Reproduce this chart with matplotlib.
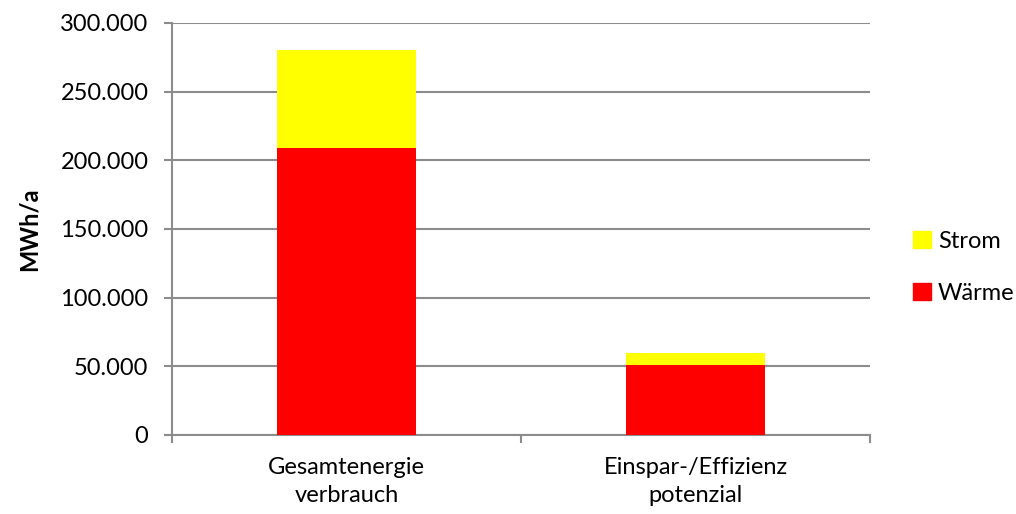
import matplotlib
matplotlib.use("Agg")
import matplotlib.pyplot as plt
from matplotlib.ticker import FuncFormatter, FixedLocator
from matplotlib.patches import Patch

categories = ["Gesamtenergie\nverbrauch", "Einspar-/Effizienz\npotenzial"]
waerme = [209000, 51000]
strom = [71000, 8500]
yticks = [0, 50000, 100000, 150000, 200000, 250000, 300000]

plt.rcParams["font.family"] = ["Lato", "DejaVu Sans"]

fig = plt.figure(figsize=(10.16, 5.14), dpi=100)
ax = fig.add_axes([0.1693, 0.1537, 0.8563 - 0.1693, 0.9553 - 0.1537])

grid_c = "#8c8c8c"
fs = 17
x = [0.5 + i for i in range(len(categories))]
ax.bar(x, waerme, width=0.4, color="#ff0000", zorder=3)
ax.bar(x, strom, width=0.4, bottom=waerme, color="#ffff00", zorder=3)

ax.set_xlim(0, len(categories))
ax.set_ylim(0, 300000)
ax.set_yticks(yticks)
ax.yaxis.set_major_formatter(FuncFormatter(lambda v, p: f"{int(v):,}".replace(",", ".")))
ax.set_xticks(x)
ax.set_xticklabels(categories, linespacing=1.4)
ax.xaxis.set_minor_locator(FixedLocator([0, 1, 2]))
ax.tick_params(axis="x", which="major", length=0, pad=16, labelsize=fs)
ax.tick_params(axis="x", which="minor", length=6, color=grid_c, width=1.5)
ax.tick_params(axis="y", length=6, color=grid_c, width=1.5, labelsize=fs, pad=11)

ax.grid(axis="y", color=grid_c, linewidth=1.5, zorder=0)
ax.set_axisbelow(True)
for s in ["top", "right"]:
    ax.spines[s].set_visible(False)
for s in ["left", "bottom"]:
    ax.spines[s].set_color(grid_c)
    ax.spines[s].set_linewidth(1.5)

ax.set_ylabel("MWh/a", fontsize=17, fontweight="bold", labelpad=14)

handles = [Patch(color="#ffff00"), Patch(color="#ff0000")]
fig.legend(handles, ["Strom", "Wärme"], loc="center left",
           bbox_to_anchor=(0.878, 0.48), frameon=False, fontsize=fs,
           handlelength=0.75, handleheight=0.75, handletextpad=0.3, labelspacing=1.3)

fig.savefig("out.png", dpi=100, facecolor="white")
